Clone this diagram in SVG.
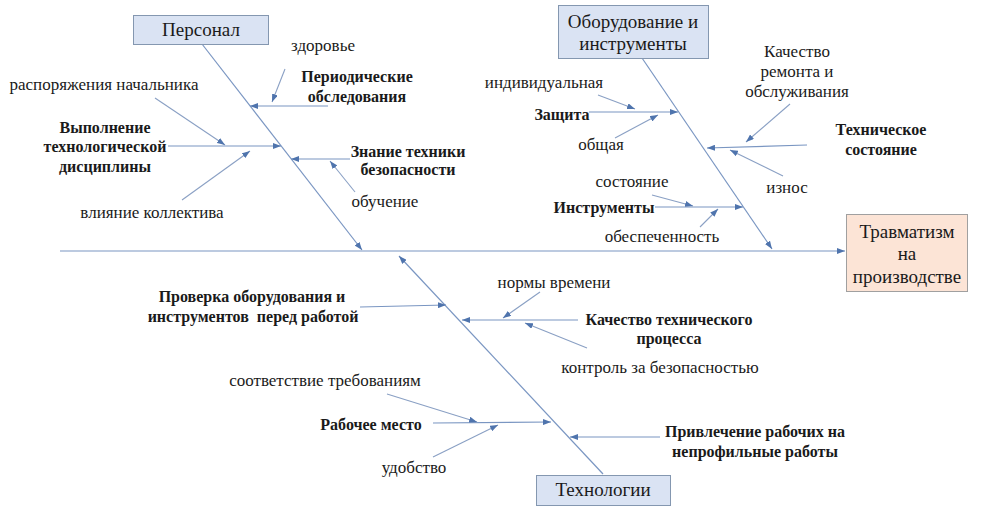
<svg xmlns="http://www.w3.org/2000/svg" width="994" height="515" viewBox="0 0 994 515" font-family="Liberation Serif, DejaVu Serif, serif">
<style>
.l{font-size:17px}
.b{font-size:16px;font-weight:bold}
.t{font-size:19px}
.m{text-anchor:middle}
text{fill:#1a1a1a}
.box{fill:#dae3f3;stroke:#8497b0;stroke-width:1}
.res{fill:#fce4d6;stroke:#a0a0a0;stroke-width:1}
.ln{stroke:#7a96c2;stroke-width:1.2;fill:none}
.sp{stroke:#8aa0c4;stroke-width:1.1;fill:none}
</style>
<defs>
<marker id="ah" markerUnits="userSpaceOnUse" markerWidth="8" markerHeight="6" refX="8" refY="3" orient="auto">
<path d="M0,0 L8,3 L0,6 z" fill="#4f74ad"/>
</marker>
</defs>
<rect width="994" height="515" fill="#ffffff"/>

<g id="connectors">
<line class="ln" x1="60" y1="251" x2="845" y2="251" marker-end="url(#ah)"/>
<line class="ln" x1="202" y1="44" x2="362" y2="250" marker-end="url(#ah)"/>
<line class="ln" x1="642" y1="58" x2="772" y2="249" marker-end="url(#ah)"/>
<line class="ln" x1="603" y1="474" x2="399" y2="256" marker-end="url(#ah)"/>
<line class="ln" x1="328" y1="106" x2="250" y2="106" marker-end="url(#ah)"/>
<line class="sp" x1="285" y1="69" x2="272" y2="102" marker-end="url(#ah)"/>
<line class="ln" x1="168" y1="146" x2="281" y2="146" marker-end="url(#ah)"/>
<line class="sp" x1="155" y1="98" x2="225" y2="145" marker-end="url(#ah)"/>
<line class="sp" x1="182" y1="200" x2="250" y2="151" marker-end="url(#ah)"/>
<line class="ln" x1="350" y1="159" x2="291" y2="159" marker-end="url(#ah)"/>
<line class="sp" x1="355" y1="192" x2="330" y2="161" marker-end="url(#ah)"/>
<line class="ln" x1="589" y1="112" x2="678" y2="112" marker-end="url(#ah)"/>
<line class="sp" x1="598" y1="95" x2="635" y2="109" marker-end="url(#ah)"/>
<line class="sp" x1="615" y1="138" x2="658" y2="115" marker-end="url(#ah)"/>
<line class="ln" x1="807" y1="145" x2="707" y2="148" marker-end="url(#ah)"/>
<line class="sp" x1="790" y1="104" x2="746" y2="142" marker-end="url(#ah)"/>
<line class="sp" x1="783" y1="176" x2="730" y2="150" marker-end="url(#ah)"/>
<line class="ln" x1="655" y1="207" x2="743" y2="207" marker-end="url(#ah)"/>
<line class="sp" x1="652" y1="195" x2="693" y2="206" marker-end="url(#ah)"/>
<line class="sp" x1="700" y1="227" x2="718" y2="209" marker-end="url(#ah)"/>
<line class="ln" x1="360" y1="307" x2="446" y2="305" marker-end="url(#ah)"/>
<line class="ln" x1="578" y1="320" x2="462" y2="320" marker-end="url(#ah)"/>
<line class="sp" x1="540" y1="292" x2="503" y2="318" marker-end="url(#ah)"/>
<line class="sp" x1="587" y1="348" x2="525" y2="323" marker-end="url(#ah)"/>
<line class="ln" x1="433" y1="423" x2="551" y2="422" marker-end="url(#ah)"/>
<line class="sp" x1="387" y1="394" x2="477" y2="422" marker-end="url(#ah)"/>
<line class="sp" x1="433" y1="457" x2="498" y2="425" marker-end="url(#ah)"/>
<line class="ln" x1="660" y1="437" x2="570" y2="437" marker-end="url(#ah)"/>
</g>

<g id="node-personal">
<rect class="box" x="133.5" y="15.5" width="135" height="29"/>
<text class="t m" x="201" y="36">Персонал</text>
</g>
<g id="node-equipment">
<rect class="box" x="558.5" y="5.5" width="150" height="53"/>
<text class="t m" x="633" y="28">Оборудование и</text>
<text class="t m" x="633" y="50">инструменты</text>
</g>
<g id="node-result">
<rect class="res" x="846.5" y="214.5" width="121" height="77"/>
<text class="t m" x="907" y="238">Травматизм</text>
<text class="t m" x="907" y="260">на</text>
<text class="t m" x="907" y="283">производстве</text>
</g>
<g id="node-technology">
<rect class="box" x="536.5" y="475.5" width="134" height="30"/>
<text class="t m" x="603" y="496">Технологии</text>
</g>

<g id="labels-personal">
<text class="l m" x="323" y="51">здоровье</text>
<text class="b m" x="357" y="82">Периодические</text>
<text class="b m" x="357" y="102">обследования</text>
<text class="l m" x="104" y="90">распоряжения начальника</text>
<text class="b m" x="105" y="133">Выполнение</text>
<text class="b m" x="105" y="152">технологической</text>
<text class="b m" x="105" y="172">дисциплины</text>
<text class="l m" x="152" y="218">влияние коллектива</text>
<text class="b m" x="408" y="157">Знание техники</text>
<text class="b m" x="408" y="175">безопасности</text>
<text class="l m" x="385" y="207">обучение</text>
</g>
<g id="labels-equipment">
<text class="l m" x="544" y="88">индивидуальная</text>
<text class="b m" x="562" y="120">Защита</text>
<text class="l m" x="601" y="150">общая</text>
<text class="l m" x="797" y="57">Качество</text>
<text class="l m" x="797" y="77">ремонта и</text>
<text class="l m" x="797" y="97">обслуживания</text>
<text class="b m" x="881" y="135">Техническое</text>
<text class="b m" x="881" y="155">состояние</text>
<text class="l m" x="787" y="193">износ</text>
<text class="l m" x="632" y="187">состояние</text>
<text class="b m" x="604" y="213">Инструменты</text>
<text class="l m" x="662" y="242">обеспеченность</text>
</g>
<g id="labels-technology">
<text class="b m" x="252" y="302">Проверка оборудования и</text>
<text class="b m" x="253" y="322" xml:space="preserve">инструментов  перед работой</text>
<text class="l m" x="554" y="288">нормы времени</text>
<text class="b m" x="669" y="325">Качество технического</text>
<text class="b m" x="669" y="344">процесса</text>
<text class="l m" x="660" y="373">контроль за безопасностью</text>
<text class="l m" x="325" y="386">соответствие требованиям</text>
<text class="b m" x="371" y="430">Рабочее место</text>
<text class="l m" x="414" y="473">удобство</text>
<text class="b m" x="755" y="437">Привлечение рабочих на</text>
<text class="b m" x="755" y="457">непрофильные работы</text>
</g>
</svg>
